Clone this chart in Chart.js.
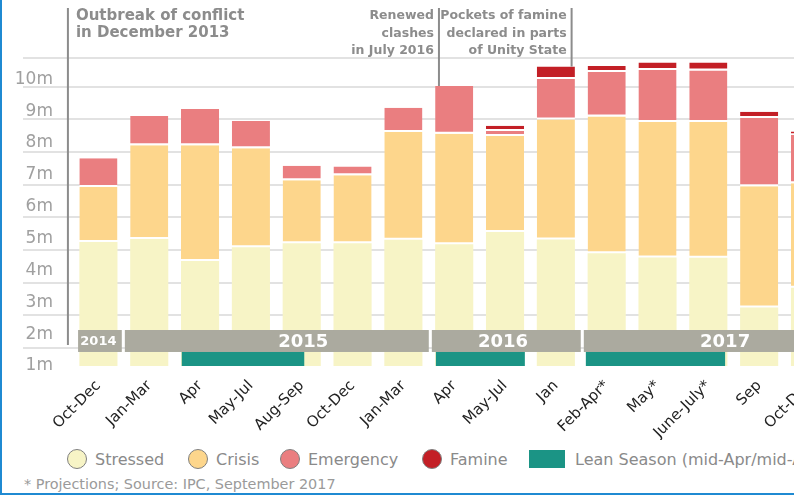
<!DOCTYPE html>
<html>
<head>
<meta charset="utf-8">
<script src="https://cdn.jsdelivr.net/npm/chart.js@4.4.0/dist/chart.umd.min.js"></script>
<style>
body{margin:0;width:794px;height:495px;overflow:hidden;background:#fff;position:relative;font-family:"DejaVu Sans",sans-serif}
#c{position:absolute;left:0;top:0}
#frame{position:absolute;left:0;top:0;width:792px;height:493px;border-left:2px solid #1f8ad2;border-bottom:2px solid #1f8ad2;pointer-events:none}
.lg{position:absolute;top:449px;height:20px;display:flex;align-items:center;font-size:16px;color:#8a8a8a;white-space:nowrap}
.sw{width:18px;height:18px;border-radius:50%;border:1.5px solid #808080;margin-right:8px}
.sq{width:36px;height:18px;margin-right:10px}
#note{position:absolute;left:24px;top:476px;font-size:14.4px;color:#9a9a9a;white-space:nowrap}
</style>
</head>
<body>
<canvas id="c" width="840" height="440"></canvas>
<div id="legend"></div>
<div id="note">* Projections; Source: IPC, September 2017</div>
<div id="frame"></div>
<script>
// millions of people (stacked)
var periods = ['Oct-Dec','Jan-Mar','Apr','May-Jul','Aug-Sep','Oct-Dec','Jan-Mar','Apr','May-Jul','Jan','Feb-Apr*','May*','June-July*','Sep','Oct-Dec'];
var stressed  = [4.89,4.99,4.30,4.73,4.85,4.85,4.96,4.82,5.21,4.97,4.54,4.41,4.40,2.84,3.46];
var crisis    = [1.73,2.94,3.63,3.11,1.98,2.14,3.39,3.47,3.01,3.77,4.29,4.25,4.26,3.80,3.28];
var emergency = [0.90,0.92,1.14,0.85,0.46,0.27,0.76,1.50,0.16,1.27,1.40,1.63,1.62,2.15,1.52];
var famine    = [0,0,0,0,0,0,0,0,0.16,0.39,0.19,0.24,0.25,0.19,0.10];
var yTicks = [1,2,3,4,5,6,7,8,9,10];

// year bands and lean season, in category units
var years = [['2014',-0.40,0.46,0],['2015',0.52,6.50,4.03],['2016',6.56,9.49,7.96],['2017',9.55,16,12.33]];
var leanSeason = [[1.64,4.05],[6.64,8.39],[9.59,12.33]];
var notes = [
	{lines:['Outbreak of conflict','in December 2013'], at:-0.6, bar:null, size:15, align:'left'},
	{lines:['Renewed','clashes','in July 2016'], at:6.70, bar:7, size:12.5, align:'right'},
	{lines:['Pockets of famine','declared in parts','of Unity State'], at:9.31, bar:9, size:12.5, align:'right'}
];

var colors = {stressed:'#f7f4c6', crisis:'#fdd68c', emergency:'#ea7e80', famine:'#c31f26', lean:'#1b9485'};

var overlay = {
	id: 'overlay',
	afterDatasetsDraw: function(chart) {
		var ctx = chart.ctx, x = chart.scales.x, y = chart.scales.y;
		var step = x.getPixelForValue(1) - x.getPixelForValue(0);
		function px(f){ return x.getPixelForValue(0) + f*step; }
		var bTop = y.getPixelForValue(2.13), bBot = y.getPixelForValue(1.44), base = y.getPixelForValue(1);
		ctx.save();
		ctx.fillStyle = '#abaa9f';
		years.forEach(function(yr){
			ctx.fillRect(px(yr[1]), bTop, px(yr[2]) - px(yr[1]), bBot - bTop);
		});
		ctx.fillStyle = '#fff';
		ctx.textAlign = 'center';
		ctx.textBaseline = 'middle';
		years.forEach(function(yr){
			ctx.font = (yr[0] == '2014' ? 'bold 13px' : 'bold 18px') + ' "DejaVu Sans"';
			ctx.fillText(yr[0], px(yr[3]), (bTop + bBot)/2 + 1);
		});
		ctx.fillStyle = colors.lean;
		leanSeason.forEach(function(s){
			ctx.fillRect(px(s[0]), bBot, px(s[1]) - px(s[0]), base - bBot);
		});
		ctx.restore();
	},
	afterDraw: function(chart) {
		var ctx = chart.ctx, x = chart.scales.x, y = chart.scales.y;
		var step = x.getPixelForValue(1) - x.getPixelForValue(0);
		ctx.save();
		notes.forEach(function(n){
			var lx = x.getPixelForValue(0) + n.at*step;
			var bottom = n.bar === null ? y.getPixelForValue(1.66)
				: y.getPixelForValue(stressed[n.bar] + crisis[n.bar] + emergency[n.bar] + famine[n.bar]);
			ctx.strokeStyle = '#8c8c8c';
			ctx.lineWidth = 2;
			ctx.beginPath();
			ctx.moveTo(lx, 8);
			ctx.lineTo(lx, bottom);
			ctx.stroke();
			ctx.fillStyle = '#8c8c8c';
			ctx.font = 'bold ' + n.size + 'px "DejaVu Sans"';
			ctx.textBaseline = 'middle';
			ctx.textAlign = n.align;
			var tx = n.align == 'left' ? lx + 8 : lx - 5;
			var lh = n.align == 'left' ? 17 : 17.5;
			n.lines.forEach(function(t, i){
				ctx.fillText(t, tx, 16 + i*lh);
			});
		});
		ctx.restore();
	}
};

function seg(label, values, color, top) {
	return {
		label: label,
		data: values,
		backgroundColor: color,
		borderColor: '#fff',
		borderWidth: top ? {top:0, left:0, right:0, bottom:2} : 0,
		borderSkipped: false,
		barPercentage: 0.75,
		categoryPercentage: 1
	};
}

var ctx = document.getElementById('c').getContext('2d');
var chart = new Chart(ctx, {
	type: 'bar',
	data: {
		labels: periods,
		datasets: [
			seg('Stressed', stressed, colors.stressed, false),
			seg('Crisis', crisis, colors.crisis, true),
			seg('Emergency', emergency, colors.emergency, true),
			seg('Famine', famine, colors.famine, true)
		]
	},
	options: {
		responsive: false,
		animation: false,
		devicePixelRatio: 1,
		layout: {padding: {top: 58, right: 4.6, left: 0, bottom: 0}},
		plugins: {legend: {display: false}, tooltip: {enabled: false}},
		scales: {
			x: {
				stacked: true,
				grid: {display: false},
				border: {display: false},
				ticks: {minRotation: 45, maxRotation: 45, autoSkip: false, padding: 3, color: '#222', font: {family: 'DejaVu Sans', size: 15}},
				afterFit: function(s){ s.height = 74; }
			},
			y: {
				stacked: true,
				position: 'left',
				weight: 1,
				min: 1, max: 10.67,
				grid: {display: false, drawTicks: false, tickLength: 0},
				border: {display: false},
				afterBuildTicks: function(s){ s.ticks = yTicks.map(function(v){ return {value: v}; }); },
				ticks: {padding: 20, color: '#a0a0a0', font: {family: 'DejaVu Sans', size: 17}, callback: function(v){ return v + 'm'; }},
				afterFit: function(s){ s.width = 73; }
			},
			yGrid: {
				position: 'left',
				weight: 0,
				min: 1.4415, max: 10.883,
				grid: {color: '#e2e2e2', lineWidth: 2, tickLength: 50, drawTicks: true},
				border: {display: false},
				afterBuildTicks: function(s){ s.ticks = [2,3,4,5,6,7,8,9,10,10.883].map(function(v){ return {value: v}; }); },
				ticks: {display: false},
				afterFit: function(s){ s.width = 0; }
			}
		}
	},
	plugins: [overlay]
});

// legend
var legendItems = [['Stressed', colors.stressed, 67], ['Crisis', colors.crisis, 188], ['Emergency', colors.emergency, 280], ['Famine', colors.famine, 422], ['Lean Season (mid-Apr/mid-Aug)', colors.lean, 529]];
var lg = document.getElementById('legend');
legendItems.forEach(function(it, i){
	var d = document.createElement('div');
	d.className = 'lg';
	d.style.left = it[2] + 'px';
	var s = document.createElement('span');
	s.className = i == 4 ? 'sq' : 'sw';
	s.style.background = it[1];
	d.appendChild(s);
	d.appendChild(document.createTextNode(it[0]));
	lg.appendChild(d);
});
</script>
</body>
</html>
